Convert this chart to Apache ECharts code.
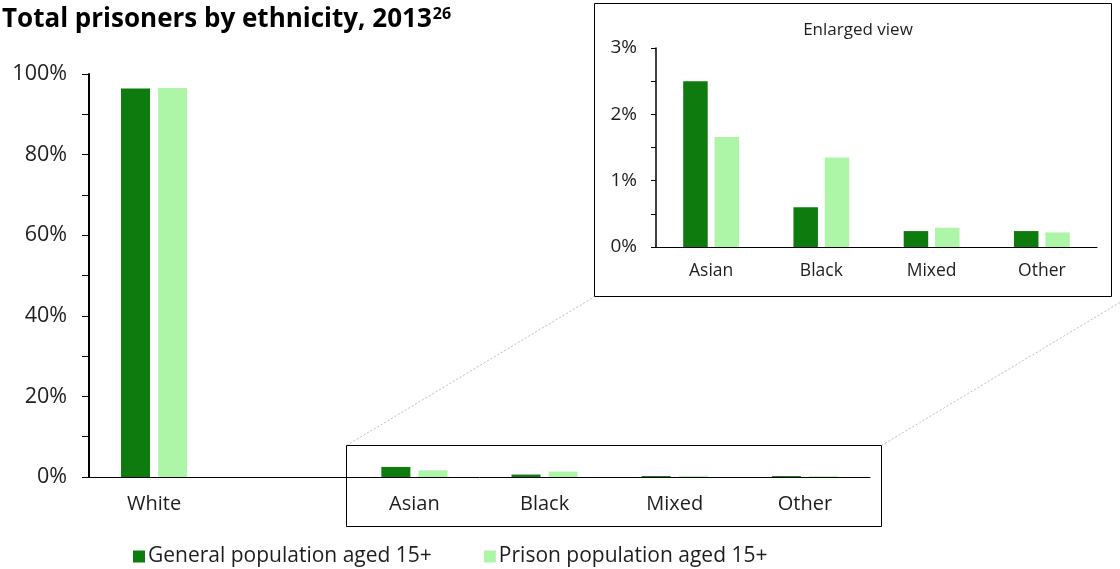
<!DOCTYPE html>
<html>
<head>
<meta charset="utf-8">
<script src="https://cdn.jsdelivr.net/npm/echarts@6/dist/echarts.min.js"></script>
<style>
html,body{margin:0;padding:0;background:#fff;}
#chart{width:1120px;height:569px;}
</style>
</head>
<body>
<div id="chart"></div>
<script>
// ---- data ----
const categories = ['White', '', 'Asian', 'Black', 'Mixed', 'Other'];
const generalPop = [96.4, null, 2.5, 0.6, 0.24, 0.24];
const prisonPop  = [96.5, null, 1.66, 1.35, 0.29, 0.22];
const insetCategories = ['Asian', 'Black', 'Mixed', 'Other'];
const insetGeneral = [2.5, 0.6, 0.24, 0.24];
const insetPrison  = [1.66, 1.35, 0.29, 0.22];
const seriesNames = ['General population aged 15+', 'Prison population aged 15+'];

const DARK = '#0e7b0e';
const LIGHT = '#adf6a8';
const FONT = '"Open Sans", "Noto Sans", sans-serif';
const TXT = '#1e1e1e';

const chart = echarts.init(document.getElementById('chart'), null, {renderer: 'canvas'});

const option = {
  backgroundColor: '#fff',
  animation: false,
  textStyle: {fontFamily: FONT, color: TXT},
  title: {
    left: -3, top: 1,
    text: '{t|Total prisoners by ethnicity, 2013}{s|26}',
    textStyle: {
      rich: {
        t: {fontFamily: FONT, fontWeight: 'bold', fontSize: 26, color: '#000'},
        s: {fontFamily: FONT, fontWeight: 'bold', fontSize: 16, color: '#000', verticalAlign: 'top', padding: [0, 0, 11, 1]}
      }
    }
  },
  legend: {
    left: 128, top: 541,
    icon: 'rect', itemWidth: 12, itemHeight: 12, itemGap: 52,
    textStyle: {fontFamily: FONT, fontSize: 21, color: TXT, padding: [0, 0, 0, -2]},
    data: seriesNames
  },
  grid: [
    {left: 89, top: 74, width: 781, height: 403},
    {left: 656, top: 48, width: 441, height: 199}
  ],
  xAxis: [
    {
      type: 'category', gridIndex: 0, data: categories,
      axisLine: {lineStyle: {color: '#000', width: 1}},
      axisTick: {show: false},
      axisLabel: {fontFamily: FONT, fontSize: 20, color: TXT, margin: 17}
    },
    {
      type: 'category', gridIndex: 1, data: insetCategories,
      axisLine: {lineStyle: {color: '#000', width: 1}},
      axisTick: {show: false},
      axisLabel: {fontFamily: FONT, fontSize: 17.5, color: TXT, margin: 15}
    }
  ],
  yAxis: [
    {
      type: 'value', gridIndex: 0, min: 0, max: 100, interval: 20,
      axisLine: {show: true, lineStyle: {color: '#000', width: 2}},
      axisTick: {show: true, length: 7, lineStyle: {color: '#000', width: 1}},
      minorTick: {show: true, splitNumber: 2, length: 7, lineStyle: {color: '#000', width: 1}},
      splitLine: {show: false},
      axisLabel: {fontFamily: FONT, fontSize: 21.5, color: TXT, margin: 22, formatter: '{value}%'}
    },
    {
      type: 'value', gridIndex: 1, min: 0, max: 3, interval: 1,
      axisLine: {show: true, lineStyle: {color: '#000', width: 1.5}},
      axisTick: {show: true, length: 5, lineStyle: {color: '#000', width: 1}},
      minorTick: {show: true, splitNumber: 2, length: 5, lineStyle: {color: '#000', width: 1}},
      splitLine: {show: false},
      axisLabel: {fontFamily: FONT, fontSize: 19, color: TXT, margin: 19, formatter: '{value}%'}
    }
  ],
  series: [
    {name: seriesNames[0], type: 'bar', xAxisIndex: 0, yAxisIndex: 0, data: generalPop,
      barWidth: 29, barGap: '28%', itemStyle: {color: DARK}},
    {name: seriesNames[1], type: 'bar', xAxisIndex: 0, yAxisIndex: 0, data: prisonPop,
      barWidth: 29, barGap: '28%', itemStyle: {color: LIGHT}},
    {name: seriesNames[0], type: 'bar', xAxisIndex: 1, yAxisIndex: 1, data: insetGeneral,
      barWidth: 24.5, barGap: '28%', itemStyle: {color: DARK}},
    {name: seriesNames[1], type: 'bar', xAxisIndex: 1, yAxisIndex: 1, data: insetPrison,
      barWidth: 24.5, barGap: '28%', itemStyle: {color: LIGHT}}
  ],
  graphic: [
    {type: 'rect', shape: {x: 346.5, y: 445.5, width: 535, height: 81},
      style: {fill: 'none', stroke: '#000', lineWidth: 1}, z: 10},
    {type: 'rect', shape: {x: 594.5, y: 3.5, width: 517, height: 293},
      style: {fill: 'none', stroke: '#000', lineWidth: 1}, z: 10},
    {type: 'line', shape: {x1: 346.5, y1: 445.5, x2: 594, y2: 297},
      style: {stroke: '#bdbdbd', lineWidth: 1, lineDash: [2, 2]}, z: 9},
    {type: 'line', shape: {x1: 881.5, y1: 445.5, x2: 1129, y2: 297},
      style: {stroke: '#bdbdbd', lineWidth: 1, lineDash: [2, 2]}, z: 9},
    {type: 'text', x: 858, y: 22,
      style: {text: 'Enlarged view', font: '17px ' + FONT, fill: TXT, align: 'center'}, z: 10}
  ]
};
chart.setOption(option);
</script>
</body>
</html>
